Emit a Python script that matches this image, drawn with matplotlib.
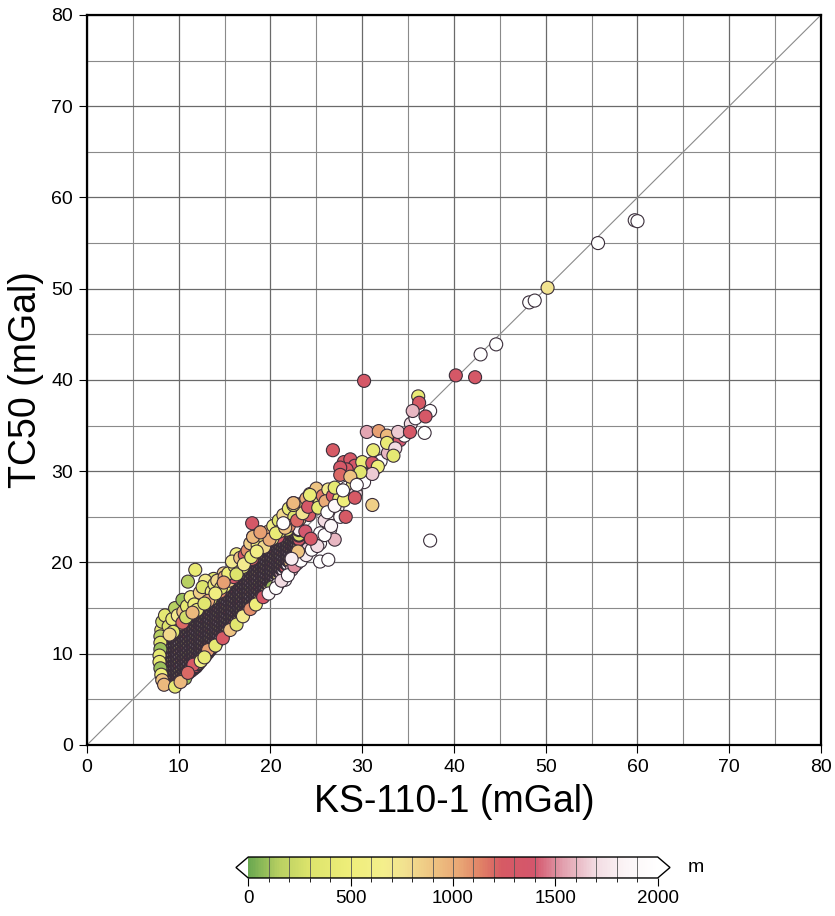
import matplotlib
matplotlib.use("Agg")
import matplotlib.pyplot as plt
import numpy as np
from matplotlib.colors import LinearSegmentedColormap, Normalize

plt.rcParams["font.family"] = ["Liberation Sans", "DejaVu Sans"]

# --- dense core of the cloud (KS-110-1, TC50 in mGal), one row per x column ---
core_cols = [8.6, 9.1, 9.6, 10.1, 10.6, 11.1, 11.6, 12.1, 12.6, 13.1, 13.6, 14.1,
             14.6, 15.1, 15.6, 16.1, 16.6, 17.1, 17.6, 18.1, 18.6, 19.1, 19.6,
             20.1, 20.6, 21.1, 21.6, 22.1, 22.6, 23.1]
core_y_cols = [
    [7.3, 7.8, 8.3, 8.8, 9.3, 9.8, 10.3, 10.8, 11.3],
    [7.1, 7.6, 8.1, 8.6, 9.1, 9.6, 10.1, 10.6, 11.1, 11.6],
    [7.0, 7.5, 8.0, 8.5, 9.0, 9.5, 10.0, 10.5, 11.0, 11.5, 12.0],
    [7.3, 7.8, 8.3, 8.8, 9.3, 9.8, 10.3, 10.8, 11.3, 11.8, 12.3],
    [7.6, 8.1, 8.6, 9.1, 9.6, 10.1, 10.6, 11.1, 11.6, 12.1, 12.6],
    [8.0, 8.5, 9.0, 9.5, 10.0, 10.5, 11.0, 11.5, 12.0, 12.5, 13.0],
    [8.4, 8.9, 9.4, 9.9, 10.4, 10.9, 11.4, 11.9, 12.4, 12.9, 13.4],
    [8.9, 9.4, 9.9, 10.4, 10.9, 11.4, 11.9, 12.4, 12.9, 13.4, 13.9],
    [9.5, 10.0, 10.5, 11.0, 11.5, 12.0, 12.5, 13.0, 13.5, 14.0, 14.4],
    [10.1, 10.6, 11.1, 11.6, 12.1, 12.6, 13.1, 13.6, 14.1, 14.6, 14.9],
    [10.7, 11.2, 11.7, 12.2, 12.7, 13.2, 13.7, 14.2, 14.7, 15.2],
    [11.3, 11.8, 12.3, 12.8, 13.3, 13.8, 14.3, 14.8, 15.3, 15.8],
    [11.9, 12.4, 12.9, 13.4, 13.9, 14.4, 14.9, 15.4, 15.9, 16.3],
    [12.5, 13.0, 13.5, 14.0, 14.5, 15.0, 15.5, 16.0, 16.5, 16.9],
    [13.1, 13.6, 14.1, 14.6, 15.1, 15.6, 16.1, 16.6, 17.1, 17.4],
    [13.6, 14.1, 14.6, 15.1, 15.6, 16.1, 16.6, 17.1, 17.6, 18.0],
    [14.1, 14.6, 15.1, 15.6, 16.1, 16.6, 17.1, 17.6, 18.1, 18.5],
    [14.6, 15.1, 15.6, 16.1, 16.6, 17.1, 17.6, 18.1, 18.6, 19.0],
    [15.1, 15.6, 16.1, 16.6, 17.1, 17.6, 18.1, 18.6, 19.1, 19.5],
    [15.6, 16.1, 16.6, 17.1, 17.6, 18.1, 18.6, 19.1, 19.6, 20.0],
    [16.1, 16.6, 17.1, 17.6, 18.1, 18.6, 19.1, 19.6, 20.1, 20.5],
    [16.6, 17.1, 17.6, 18.1, 18.6, 19.1, 19.6, 20.1, 20.6, 21.0],
    [17.2, 17.7, 18.2, 18.7, 19.2, 19.7, 20.2, 20.7, 21.2],
    [17.7, 18.2, 18.7, 19.2, 19.7, 20.2, 20.7, 21.2, 21.7],
    [18.3, 18.8, 19.3, 19.8, 20.3, 20.8, 21.3, 21.8, 22.2],
    [18.9, 19.4, 19.9, 20.4, 20.9, 21.4, 21.9, 22.4],
    [19.5, 20.0, 20.5, 21.0, 21.5, 22.0, 22.5, 23.0],
    [20.1, 20.6, 21.1, 21.6, 22.1, 22.6, 23.1],
    [20.8, 21.3, 21.8, 22.3, 22.8, 23.3],
    [21.5, 22.0, 22.5, 23.0, 23.6],
]
# second, staggered set of columns inside the core
core_cols2 = [8.85, 9.35, 9.85, 10.35, 10.85, 11.35, 11.85, 12.35, 12.85, 13.35,
              13.85, 14.35, 14.85, 15.35, 15.85, 16.35, 16.85, 17.35, 17.85, 18.35,
              18.85, 19.35, 19.85, 20.35, 20.85, 21.35, 21.85, 22.35, 22.85]
core_y_cols2 = [
    [7.2, 7.7, 8.2, 8.7, 9.2, 9.7, 10.2, 10.7, 11.2, 11.6],
    [7.0, 7.5, 8.0, 8.5, 9.0, 9.5, 10.0, 10.5, 11.0, 11.5, 11.9],
    [7.1, 7.6, 8.1, 8.6, 9.1, 9.6, 10.1, 10.6, 11.1, 11.6, 12.1],
    [7.4, 7.9, 8.4, 8.9, 9.4, 9.9, 10.4, 10.9, 11.4, 11.9, 12.4],
    [7.8, 8.3, 8.8, 9.3, 9.8, 10.3, 10.8, 11.3, 11.8, 12.3, 12.8],
    [8.2, 8.7, 9.2, 9.7, 10.2, 10.7, 11.2, 11.7, 12.2, 12.7, 13.2],
    [8.6, 9.1, 9.6, 10.1, 10.6, 11.1, 11.6, 12.1, 12.6, 13.1, 13.6],
    [9.2, 9.7, 10.2, 10.7, 11.2, 11.7, 12.2, 12.7, 13.2, 13.7, 14.1],
    [9.8, 10.3, 10.8, 11.3, 11.8, 12.3, 12.8, 13.3, 13.8, 14.3, 14.7],
    [10.4, 10.9, 11.4, 11.9, 12.4, 12.9, 13.4, 13.9, 14.4, 14.9, 15.2],
    [11.0, 11.5, 12.0, 12.5, 13.0, 13.5, 14.0, 14.5, 15.0, 15.5],
    [11.6, 12.1, 12.6, 13.1, 13.6, 14.1, 14.6, 15.1, 15.6, 16.0],
    [12.2, 12.7, 13.2, 13.7, 14.2, 14.7, 15.2, 15.7, 16.2, 16.6],
    [12.8, 13.3, 13.8, 14.3, 14.8, 15.3, 15.8, 16.3, 16.8, 17.2],
    [13.3, 13.8, 14.3, 14.8, 15.3, 15.8, 16.3, 16.8, 17.3, 17.7],
    [13.9, 14.4, 14.9, 15.4, 15.9, 16.4, 16.9, 17.4, 17.9, 18.3],
    [14.4, 14.9, 15.4, 15.9, 16.4, 16.9, 17.4, 17.9, 18.4, 18.8],
    [14.9, 15.4, 15.9, 16.4, 16.9, 17.4, 17.9, 18.4, 18.9, 19.3],
    [15.4, 15.9, 16.4, 16.9, 17.4, 17.9, 18.4, 18.9, 19.4, 19.8],
    [15.9, 16.4, 16.9, 17.4, 17.9, 18.4, 18.9, 19.4, 19.9, 20.3],
    [16.4, 16.9, 17.4, 17.9, 18.4, 18.9, 19.4, 19.9, 20.4, 20.8],
    [16.9, 17.4, 17.9, 18.4, 18.9, 19.4, 19.9, 20.4, 20.9],
    [17.5, 18.0, 18.5, 19.0, 19.5, 20.0, 20.5, 21.0, 21.5],
    [18.0, 18.5, 19.0, 19.5, 20.0, 20.5, 21.0, 21.5, 21.9],
    [18.6, 19.1, 19.6, 20.1, 20.6, 21.1, 21.6, 22.1],
    [19.2, 19.7, 20.2, 20.7, 21.2, 21.7, 22.2, 22.7],
    [19.8, 20.3, 20.8, 21.3, 21.8, 22.3, 22.8],
    [20.4, 20.9, 21.4, 21.9, 22.4, 22.9, 23.3],
    [21.1, 21.6, 22.1, 22.6, 23.1, 23.5],
]
# elevation (m) cycled along the core columns
core_m_pattern = [600, 1300, 300, 1800, 900, 450, 2000, 1100, 200, 1600, 750]

# --- colored points around the core: upper-left rim ---
rim_x = [8.1, 8.0, 8.0, 8.0, 7.9, 7.9, 8.0, 8.1, 8.2, 8.4, 8.2, 8.5,
         8.9, 9.3, 9.6, 10.4, 9.9, 10.5, 10.4, 10.9, 11.0, 11.8, 11.3, 11.7,
         12.3, 12.9, 12.6, 13.6, 13.2, 13.9, 14.2, 15.0, 14.6, 15.4, 16.1, 15.8,
         16.7, 17.2, 17.5, 17.8, 18.1, 18.9, 18.0, 18.6, 19.4, 19.8, 20.3, 20.9,
         21.4, 22.0, 22.5, 22.6, 23.3, 23.9, 24.3, 25.0, 25.7, 26.3, 22.0, 21.0,
         20.2, 19.3, 12.0, 10.8, 9.4, 9.0, 11.5, 12.8, 14.0, 14.9, 16.3, 17.1,
         17.9, 18.5, 19.9, 20.6, 21.6, 22.9, 23.5, 24.1, 23.0]
rim_y = [12.6, 11.9, 11.2, 10.5, 9.8, 9.1, 8.4, 7.7, 7.1, 6.6, 13.5, 14.2,
         13.0, 13.8, 15.0, 15.9, 14.2, 14.6, 13.4, 15.2, 17.9, 19.2, 16.2, 15.4,
         16.7, 18.0, 17.3, 16.8, 15.8, 17.6, 18.0, 18.4, 17.2, 18.8, 19.6, 20.1,
         20.5, 20.8, 21.3, 22.1, 22.8, 23.3, 24.3, 21.9, 22.6, 23.4, 24.0, 24.6,
         25.2, 25.9, 26.5, 25.0, 26.3, 27.0, 27.5, 28.1, 27.3, 28.0, 24.0, 23.4,
         22.6, 21.7, 14.8, 14.0, 12.4, 12.1, 14.5, 15.5, 16.6, 17.8, 18.7, 19.8,
         20.6, 21.2, 22.5, 23.2, 23.8, 24.6, 25.4, 26.1, 21.0]
rim_m = [450, 150, 350, 100, 400, 450, 100, 500, 900, 950, 250, 400,
         300, 450, 150, 100, 700, 900, 1200, 400, 150, 450, 600, 500,
         850, 700, 300, 600, 1000, 450, 800, 1000, 350, 500, 450, 700,
         900, 1250, 1100, 850, 950, 1050, 1300, 500, 400, 950, 600, 350,
         800, 450, 950, 300, 500, 1000, 450, 900, 1150, 700, 1100, 300,
         650, 800, 450, 250, 350, 800, 950, 350, 550, 1050, 300, 700,
         400, 600, 1000, 450, 900, 1200, 750, 1300, 450]

# band just above the core
band_x = [12.5, 13.0, 13.5, 14.0, 14.5, 15.0, 15.5, 16.0, 16.5, 17.0, 17.4, 18.0,
          18.3, 18.9, 19.4, 19.9, 20.4, 20.9, 21.3, 21.9, 22.4, 22.8, 23.5, 23.9,
          24.5, 24.8, 19.0, 17.9, 16.9, 15.9, 14.9, 13.8, 12.7, 11.9, 11.2, 10.2,
          9.7, 16.3, 20.8, 21.8, 23.2, 24.2, 25.4, 26.0]
band_y = [15.6, 16.2, 16.0, 17.2, 16.8, 17.4, 18.0, 18.4, 19.1, 19.5, 20.2, 20.4,
          21.3, 21.5, 22.0, 23.0, 23.3, 23.9, 24.5, 24.9, 25.6, 26.0, 26.5, 25.6,
          26.4, 27.2, 22.9, 21.6, 20.3, 19.2, 18.8, 18.2, 16.1, 15.3, 14.7, 13.3,
          13.6, 20.9, 22.8, 23.6, 24.8, 25.2, 26.6, 27.8]
band_m = [500, 950, 300, 700, 1100, 450, 850, 1300, 600, 400, 950, 1200,
          700, 500, 1000, 800, 450, 1050, 600, 900, 300, 1100, 800, 1200,
          500, 850, 350, 1050, 750, 400, 850, 300, 1000, 700, 1150, 800,
          500, 550, 1300, 400, 950, 1250, 600, 300]

# --- lower-right rim ---
low_x = [9.6, 10.7, 11.6, 13.2, 12.4, 10.2, 11.0, 12.8, 14.0, 14.8, 15.6, 16.3,
         17.0, 17.8, 18.4, 19.2, 20.2, 21.6, 20.8, 22.3, 22.9, 23.5, 24.1, 24.8,
         25.4, 25.4, 26.5, 25.4, 26.3, 27.0, 21.4, 23.8, 25.9, 26.6, 27.3,
         19.8, 20.6, 21.2, 21.9, 22.6, 23.3, 23.9, 24.5, 25.1, 24.4, 25.9, 26.6,
         27.6, 23.0, 22.3]
low_y = [6.4, 7.3, 8.8, 10.4, 9.2, 6.9, 7.9, 9.6, 10.9, 11.7, 12.6, 13.2,
         14.1, 14.9, 15.4, 16.2, 17.3, 18.1, 17.6, 19.2, 19.9, 20.7, 21.5, 22.3,
         22.1, 23.2, 23.6, 20.1, 20.3, 22.5, 24.3, 23.4, 24.6, 25.4, 26.0,
         16.6, 17.2, 18.0, 18.6, 19.6, 20.2, 20.8, 21.4, 21.8, 22.6, 23.0, 24.0,
         25.0, 21.2, 20.4]
low_m = [400, 100, 1250, 1050, 600, 950, 1200, 450, 400, 1250, 900, 350,
         700, 1100, 500, 1300, 100, 2000, 1900, 1600, 2000, 1800, 1650, 2000,
         2000, 2000, 2000, 2000, 2000, 1600, 2000, 1400, 1700, 2000, 1800,
         1900, 2000, 1700, 2000, 1500, 2000, 1800, 2000, 1700, 1300, 2000, 1900,
         2000, 900, 1800]

tail_x = [25.2, 26.0, 26.8, 27.5, 28.3, 29.0, 29.7, 30.4, 26.2, 27.0, 28.0, 29.3,
          30.2, 31.4, 32.0, 32.8, 33.5, 34.1, 34.6, 35.3, 35.8,
          24.3, 22.5, 27.0, 26.8, 28.0, 28.7, 29.2, 28.3, 27.6, 30.0, 31.1, 31.7,
          27.6, 31.1, 29.8, 28.7, 27.9, 29.4, 29.2, 31.1, 28.2, 22.5, 18.1, 18.9]
tail_y = [26.0, 26.7, 27.3, 27.0, 28.2, 28.6, 29.2, 29.6, 25.5, 26.2, 26.8, 27.6,
          28.8, 30.3, 31.1, 32.0, 32.8, 33.4, 33.9, 35.2, 35.8,
          27.4, 26.3, 28.2, 32.3, 31.0, 31.3, 30.6, 30.2, 30.4, 31.0, 30.9, 30.5,
          29.6, 29.7, 29.9, 29.4, 27.9, 28.5, 27.1, 26.3, 25.0, 26.5, 22.8, 23.3]
tail_m = [400, 1000, 1300, 450, 2000, 650, 1300, 400, 2000, 1900, 500, 1700,
          2000, 900, 2000, 1600, 2000, 1400, 2000, 1700, 2000,
          450, 450, 400, 1250, 1250, 1300, 1350, 1250, 1300, 450, 1300, 500,
          1200, 1650, 350, 900, 2000, 2000, 1250, 850, 1250, 950, 950, 1050]

# --- isolated high values ---
top_x = [30.5, 31.8, 32.7, 33.9, 35.2, 36.8, 32.7, 31.2, 33.6, 33.4, 36.1, 36.2,
         35.5, 37.4, 36.9, 37.4, 30.2, 40.2, 42.3, 42.9, 44.6, 48.2, 48.8,
         50.2, 55.7, 59.7, 60.0]
top_y = [34.3, 34.4, 33.9, 34.3, 34.3, 34.2, 33.1, 32.3, 32.5, 31.7, 38.2, 37.5,
         36.6, 36.6, 36.0, 22.4, 39.9, 40.5, 40.3, 42.8, 43.9, 48.5, 48.7,
         50.1, 55.0, 57.5, 57.4]
top_m = [1550, 1050, 950, 1650, 1300, 2000, 450, 450, 1700, 400, 450, 1250,
         1600, 2000, 1300, 2000, 1300, 1300, 1300, 2000, 2000, 2000, 2000,
         750, 2000, 2000, 2000]

cbar_ticks = [0, 500, 1000, 1500, 2000]

# colour table
cpt = LinearSegmentedColormap.from_list("elev", [
    (0.000, "#6aa850"), (0.075, "#b9d062"), (0.150, "#dde46c"),
    (0.250, "#efee7a"), (0.330, "#f4ef8c"), (0.380, "#f2e290"),
    (0.450, "#eec482"), (0.520, "#e8a474"), (0.570, "#e08066"),
    (0.620, "#d65a64"), (0.700, "#d4566c"), (0.770, "#e2a0ae"),
    (0.850, "#f2dce2"), (0.920, "#fbf4f6"), (1.000, "#ffffff")])
cpt.set_under("white")
cpt.set_over("white")
norm = Normalize(0, 2000)

# flatten the two sets of core columns, alternating them
core_x, core_y, core_m = [], [], []
for i in range(len(core_cols)):
    sets = [(core_cols[i], core_y_cols[i], 0)]
    if i < len(core_cols2):
        sets.append((core_cols2[i], core_y_cols2[i], 5))
    for cx, ys, shift in sets:
        for j, yv in enumerate(ys):
            core_x.append(cx)
            core_y.append(yv)
            core_m.append(core_m_pattern[(i * 3 + j + shift) % len(core_m_pattern)])

fig = plt.figure(figsize=(8.35, 9.16), dpi=100)
ax = fig.add_axes([0.1042, 0.1867, 0.879, 0.797])

ax.set_xlim(0, 80)
ax.set_ylim(0, 80)
ax.set_xticks(np.arange(0, 81, 10))
ax.set_yticks(np.arange(0, 81, 10))
ax.set_xticks(np.arange(5, 80, 10), minor=True)
ax.set_yticks(np.arange(5, 80, 10), minor=True)
ax.grid(True, which="major", color="#6a6a6a", lw=0.9)
ax.grid(True, which="minor", color="#8a8a8a", lw=0.8)
ax.set_axisbelow(True)
ax.tick_params(which="major", direction="out", length=6, width=0.8,
               labelsize=14, top=False, right=False, pad=4)
ax.tick_params(which="minor", length=0)
for sp in ax.spines.values():
    sp.set_linewidth(1.6)

ax.plot([0, 80], [0, 80], color="#8a8a8a", lw=0.8, zorder=2)

kw = dict(s=88, cmap=cpt, norm=norm, edgecolors="#3a2e3a", linewidths=0.8, zorder=3)
sc = ax.scatter(core_x, core_y, c=core_m, **dict(kw, linewidths=1.5))
ax.scatter(band_x, band_y, c=band_m, **kw)
ax.scatter(rim_x, rim_y, c=rim_m, **kw)
ax.scatter(low_x, low_y, c=low_m, **kw)
ax.scatter(tail_x, tail_y, c=tail_m, **kw)
ax.scatter(top_x, top_y, c=top_m, **kw)

ax.set_xlabel("KS-110-1 (mGal)", fontsize=27, labelpad=6)
ax.set_ylabel("TC50 (mGal)", fontsize=27, labelpad=5)

cax = fig.add_axes([0.2826, 0.0415, 0.5198, 0.0229])
cb = fig.colorbar(sc, cax=cax, orientation="horizontal", extend="both",
                  extendfrac=0.03, ticks=cbar_ticks)
cb.outline.set_linewidth(1.0)
for v in range(100, 2000, 100):
    cax.axvline(v, color="#555555", lw=0.6)
cax.set_xticks(np.arange(0, 2001, 100), minor=True)
cax.tick_params(which="major", length=6, width=0.8, labelsize=13.5, pad=3)
cax.tick_params(which="minor", length=3, width=0.6)
fig.text(0.823, 0.053, "m", fontsize=14, va="center")

fig.savefig("out.png", dpi=100)
